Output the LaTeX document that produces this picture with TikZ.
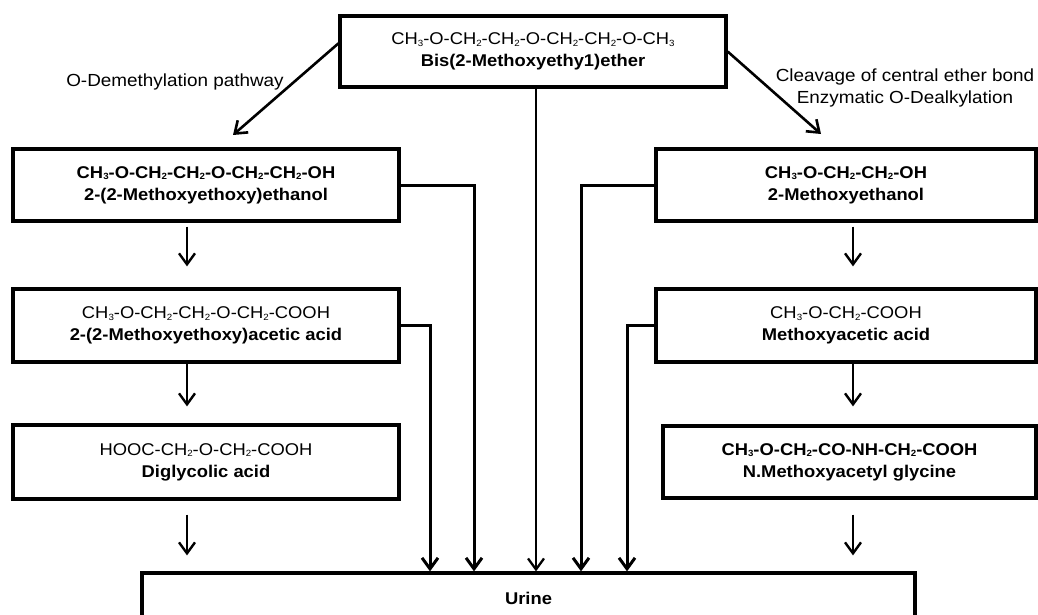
\documentclass[tikz,border=0pt]{standalone}
\usepackage{fontspec}
\setmainfont{Liberation Sans}[FakeStretch=1.08]
\usetikzlibrary{arrows.meta,calc}
\newcommand{\chs}[1]{\raisebox{-1.5pt}{\fontsize{9}{9}\selectfont #1}}
\begin{document}
\begin{tikzpicture}[x=1pt,y=-1pt,
  box/.style={draw, line width=3.2pt, inner sep=0pt, align=center, fill=white,
    font=\fontsize{17}{22}\selectfont},
  lbl/.style={inner sep=0pt, align=center, font=\fontsize{17.5}{22}\selectfont},
  tipstyle/.style={-{Straight Barb[length=11pt,width=16pt]}},
  darr/.style={tipstyle, line width=2.6pt},
  earr/.style={tipstyle, line width=3pt},
  carr/.style={tipstyle, line width=2.3pt},
  sarr/.style={tipstyle, line width=2.4pt}
]
\useasboundingbox (0,0) rectangle (1038,615);
\clip (0,0) rectangle (1038,615);

% boxes
\node[box, minimum width=386pt, minimum height=71pt] (top) at (533,51.5)
  {CH\chs{3}-O-CH\chs{2}-CH\chs{2}-O-CH\chs{2}-CH\chs{2}-O-CH\chs{3}\\ \textbf{Bis(2-Methoxyethy1)ether}};
\node[box, minimum width=386pt, minimum height=72pt] (L1) at (206,185)
  {\textbf{CH\chs{3}-O-CH\chs{2}-CH\chs{2}-O-CH\chs{2}-CH\chs{2}-OH}\\ \textbf{2-(2-Methoxyethoxy)ethanol}};
\node[box, minimum width=386pt, minimum height=73pt] (L2) at (206,325.5)
  {CH\chs{3}-O-CH\chs{2}-CH\chs{2}-O-CH\chs{2}-COOH\\ \textbf{2-(2-Methoxyethoxy)acetic acid}};
\node[box, minimum width=386pt, minimum height=74pt] (L3) at (206,462)
  {HOOC-CH\chs{2}-O-CH\chs{2}-COOH\\ \textbf{Diglycolic acid}};
\node[box, minimum width=380pt, minimum height=72pt] (R1) at (846,185)
  {\textbf{CH\chs{3}-O-CH\chs{2}-CH\chs{2}-OH}\\ \textbf{2-Methoxyethanol}};
\node[box, minimum width=380pt, minimum height=73pt] (R2) at (846,325.5)
  {CH\chs{3}-O-CH\chs{2}-COOH\\ \textbf{Methoxyacetic acid}};
\node[box, minimum width=373pt, minimum height=72pt] (R3) at (849.5,462)
  {\textbf{CH\chs{3}-O-CH\chs{2}-CO-NH-CH\chs{2}-COOH}\\ \textbf{N.Methoxyacetyl glycine}};
\node[box, minimum width=773pt, minimum height=50pt] (urine) at (528.5,598)
  {\textbf{Urine}};

% labels
\node[lbl] (lblL) at (175,82) {O-Demethylation pathway};
\node[lbl] (lblR) at (905,88) {Cleavage of central ether bond\\Enzymatic O-Dealkylation};

% helper coordinates
\coordinate (tipL) at (233,135);
\coordinate (tipR) at (821,134);
\coordinate (x430) at (430,0);
\coordinate (x474) at (474,0);
\coordinate (x536) at (536,0);
\coordinate (x581) at (581,0);
\coordinate (x627) at (627,0);
\coordinate (aL) at (187,0);
\coordinate (aR) at (853,0);

% diagonal arrows
\draw[darr] ($(top.north west)+(0,29)$) -- (tipL);
\draw[darr] (top.east) -- (tipR);

% central line
\draw[carr] (top.south -| x536) -- (urine.north -| x536);

% elbow connectors
\draw[earr] (L1.east) -| (urine.north -| x474);
\draw[earr] (L2.east) -| (urine.north -| x430);
\draw[earr] (R1.west) -| (urine.north -| x581);
\draw[earr] (R2.west) -| (urine.north -| x627);

% short arrows left
\draw[sarr] ($(L1.south -| aL)+(0,4)$) -- ($(L2.north -| aL)+(0,-21)$);
\draw[sarr] (L2.south -| aL) -- ($(L3.north -| aL)+(0,-17)$);
\draw[sarr] ($(L3.south -| aL)+(0,14)$) -- ($(urine.north -| aL)+(0,-16)$);
% short arrows right
\draw[sarr] ($(R1.south -| aR)+(0,4)$) -- ($(R2.north -| aR)+(0,-21)$);
\draw[sarr] (R2.south -| aR) -- ($(R3.north -| aR)+(0,-18)$);
\draw[sarr] ($(R3.south -| aR)+(0,15)$) -- ($(urine.north -| aR)+(0,-16)$);
\end{tikzpicture}
\end{document}
